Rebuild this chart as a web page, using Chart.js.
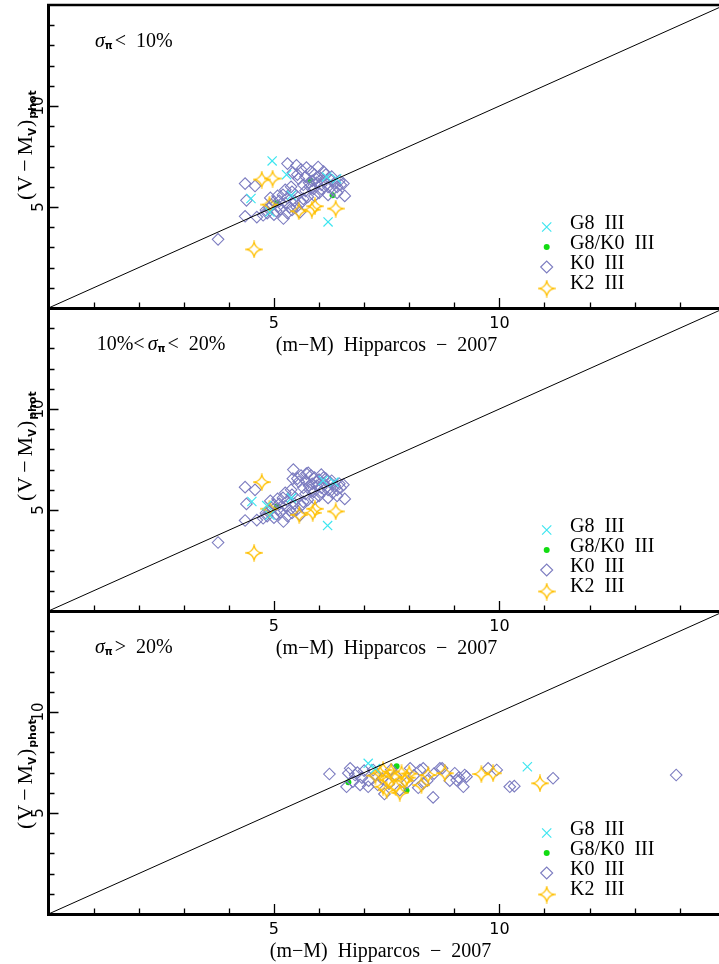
<!DOCTYPE html>
<html><head><meta charset="utf-8">
<script src="https://cdn.jsdelivr.net/npm/chart.js@4/dist/chart.umd.min.js"></script>
<style>
html,body{margin:0;padding:0;background:#fff;}
body{width:719px;height:964px;position:relative;overflow:hidden;}
canvas{position:absolute;left:0;}
</style></head><body>
<canvas id="c1"></canvas><canvas id="c2"></canvas><canvas id="c3"></canvas>
<script>
// ---------- axes / labels ----------
const XMIN = 0, XMAX = 14.87, YMIN = 0, YMAX = 15;
const xTickLabels = ['5', '10'];
const yTickLabels = ['5', '10'];
const xTitle = '(m\u2212M)  Hipparcos  \u2212  2007';
const seriesNames = ['G8  III', 'G8/K0  III', 'K0  III', 'K2  III'];
const lineX = [0, 15];
const lineY = [0, 15];

// ---------- panel 1 : sigma < 10% ----------
const g8_1_x = [4.96, 5.28, 4.49, 6.20, 6.17, 6.39, 5.39, 4.91];
const g8_1_y = [7.28, 6.60, 5.42, 4.26, 6.49, 6.40, 5.58, 4.75];
const gk_1_x = [5.06, 6.30, 5.80];
const gk_1_y = [5.20, 5.58, 6.32];
const k0_1_x = [3.76,4.36,4.58,4.39,4.36,4.62,4.76,4.85,4.90,4.95,4.82,5.00,5.05,5.10,5.12,5.00,4.92,5.20,5.15,5.21,
  5.30,5.35,5.25,5.30,5.40,5.45,5.50,5.38,5.30,5.50,5.42,5.60,5.55,5.65,5.70,5.60,5.75,5.80,5.85,5.90,
  5.82,5.98,6.00,5.95,6.05,6.10,6.00,6.15,6.20,6.25,6.30,6.35,6.40,6.45,6.54,6.57,6.40,6.20,6.10,5.90,
  5.70,5.78,5.88,5.65,5.50,5.40,5.58,6.28,6.48,6.05,5.93,6.18,5.72,5.52,5.25,5.08];
const k0_1_y = [3.40,6.16,6.04,5.33,4.54,4.50,4.59,4.70,4.95,5.10,4.85,4.62,4.80,5.05,5.30,5.25,5.45,5.60,4.90,4.43,
  4.70,5.00,5.20,5.45,5.75,5.30,5.55,6.00,7.15,7.06,6.70,6.85,6.40,6.10,5.80,5.20,5.50,6.00,6.30,6.60,
  6.75,6.98,6.50,6.20,5.90,6.30,5.70,6.60,6.00,6.35,5.85,6.20,6.00,6.30,6.16,5.55,5.70,5.60,6.75,5.55,
  6.50,6.20,5.90,5.40,5.00,4.85,4.75,6.50,6.10,6.10,6.40,6.15,6.95,6.60,5.85,5.55];
const k2_1_x = [4.73, 4.97, 4.56, 4.90, 5.55, 5.91, 5.84, 6.37];
const k2_1_y = [6.36, 6.41, 2.90, 5.12, 4.79, 5.04, 4.87, 4.92];

// ---------- panel 2 : 10% < sigma < 20% ----------
const g8_2_x = [4.51, 6.19, 6.09, 6.33, 5.39, 4.84, 4.91];
const g8_2_y = [5.42, 4.23, 6.46, 6.38, 5.60, 5.22, 4.74];
const gk_2_x = [5.06];
const gk_2_y = [5.17];
const k0_2_x = [3.76,4.36,4.58,4.39,4.36,4.62,4.76,4.85,4.90,4.95,4.82,5.00,5.05,5.10,5.12,5.00,4.92,5.20,5.15,5.21,
  5.30,5.35,5.25,5.30,5.40,5.45,5.50,5.38,5.43,5.76,5.42,5.60,5.55,5.65,5.70,5.60,5.75,5.80,5.85,5.90,
  5.82,6.05,6.00,5.95,6.05,6.10,6.00,6.15,6.20,6.25,6.30,6.35,6.40,6.45,6.54,6.57,6.40,6.20,6.10,5.90,
  5.70,5.78,5.88,5.65,5.50,5.40,5.58,6.28,6.48,6.05,5.93,6.18,5.72,5.52,5.25,5.08];
const k0_2_y = [3.39,6.13,6.00,5.30,4.48,4.50,4.59,4.70,4.95,5.10,4.85,4.62,4.80,5.05,5.30,5.25,5.45,5.60,4.90,4.43,
  4.70,5.00,5.20,5.45,5.75,5.30,5.55,6.00,7.00,6.84,6.55,6.70,6.40,6.10,5.80,5.20,5.50,6.00,6.30,6.60,
  6.70,6.75,6.50,6.20,5.90,6.30,5.70,6.55,6.00,6.35,5.85,6.20,6.00,6.30,6.25,5.55,5.70,5.60,6.60,5.55,
  6.45,6.20,5.90,5.40,5.00,4.85,4.75,6.45,6.10,6.10,6.40,6.15,6.80,6.55,5.85,5.55];
const k2_2_x = [4.73, 4.90, 5.56, 5.91, 5.86, 6.37, 4.56];
const k2_2_y = [6.38, 5.06, 4.76, 5.06, 4.86, 4.93, 2.88];

// ---------- panel 3 : sigma > 20% ----------
const g8_3_x = [7.09, 7.25, 10.62];
const g8_3_y = [7.46, 7.20, 7.29];
const gk_3_x = [6.65, 7.72, 7.94];
const gk_3_y = [6.52, 7.31, 6.12];
const k0_3_x = [6.23,6.65,6.61,6.91,7.45,8.53,8.73,8.31,9.01,9.20,9.27,9.75,9.94,10.33,11.19,13.92,
  6.69,6.80,7.09,7.20,8.24,8.31,8.68,8.02,7.79,
  6.85,6.95,7.00,7.10,7.25,7.40,7.55,7.70,7.95,8.10,8.40,8.55,9.10,9.23,8.90,7.60,6.75,7.30,8.20,9.05,10.23];
const k0_3_y = [6.93,6.97,6.30,6.39,5.94,5.77,7.21,7.21,6.97,6.30,6.80,7.21,7.13,6.33,6.72,6.88,
  7.21,6.88,6.30,7.13,7.13,6.47,7.21,7.21,6.13,
  7.00,6.75,7.10,6.60,6.90,6.70,6.45,6.85,6.50,6.85,6.60,6.95,6.75,6.88,6.60,7.15,6.55,6.40,6.25,6.63,6.30];
const k2_3_x = [7.35,7.53,7.83,7.90,7.50,7.79,7.65,7.42,7.60,7.70,8.27,8.42,8.79,9.60,9.86,10.90,7.25,8.00,7.95,7.42];
const k2_3_y = [6.97,6.63,6.97,6.60,6.13,6.00,6.80,7.13,7.05,6.30,6.38,6.88,6.97,6.93,6.97,6.47,6.85,6.95,6.75,6.30];

// ---------- styles ----------
const C = { g8: '#3ee6f0', gk: '#12dc12', k0: '#7c7cc0', k2: '#ffc000' };
const F_MAIN = '20px "Liberation Serif"';
const F_YT = '22px "Liberation Serif"';
const F_IT = 'italic 20px "Liberation Serif"';
const F_SUB = 'bold 10px "DejaVu Sans"';
const F_SUB2 = 'bold 11px "DejaVu Sans"';

function makeStar() {
  const c = document.createElement('canvas'); c.width = 18; c.height = 18;
  const g = c.getContext('2d'); const cx = 9, cy = 9, r = 7.5, k = 1.2;
  g.strokeStyle = C.k2; g.lineWidth = 1.3;
  g.beginPath(); g.moveTo(cx, cy - r);
  g.quadraticCurveTo(cx + k, cy - k, cx + r, cy);
  g.quadraticCurveTo(cx + k, cy + k, cx, cy + r);
  g.quadraticCurveTo(cx - k, cy + k, cx - r, cy);
  g.quadraticCurveTo(cx - k, cy - k, cx, cy - r);
  g.closePath(); g.stroke();
  return c;
}
const STAR = makeStar();

function pts(xs, ys) { return xs.map((x, i) => ({ x: x, y: ys[i] })); }

function rich(ctx, x, y, parts) {
  for (const p of parts) {
    ctx.font = p.f;
    x += (p.dx || 0);
    ctx.fillText(p.t, x, y + (p.dy || 0));
    x += ctx.measureText(p.t).width;
  }
}

function marker(ctx, kind, x, y) {
  ctx.save();
  if (kind === 0) {
    ctx.strokeStyle = C.g8; ctx.lineWidth = 1.2; const d = 4.6;
    ctx.beginPath(); ctx.moveTo(x - d, y - d); ctx.lineTo(x + d, y + d);
    ctx.moveTo(x - d, y + d); ctx.lineTo(x + d, y - d); ctx.stroke();
  } else if (kind === 1) {
    ctx.fillStyle = C.gk; ctx.beginPath(); ctx.arc(x, y, 3, 0, Math.PI * 2); ctx.fill();
  } else if (kind === 2) {
    ctx.strokeStyle = C.k0; ctx.lineWidth = 1.1; const r = 6;
    ctx.beginPath(); ctx.moveTo(x - r, y); ctx.lineTo(x, y - r); ctx.lineTo(x + r, y); ctx.lineTo(x, y + r); ctx.closePath(); ctx.stroke();
  } else {
    ctx.drawImage(STAR, x - 9, y - 9);
  }
  ctx.restore();
}

const decor = {
  id: 'decor',
  afterDraw(chart, args, o) {
    const ctx = chart.ctx, a = chart.chartArea, xs = chart.scales.x, ys = chart.scales.y;
    ctx.save();
    // inward ticks
    ctx.strokeStyle = '#000'; ctx.lineWidth = 1.3;
    ctx.beginPath();
    for (let v = 1; v <= 14; v++) {
      const p = Math.round(xs.getPixelForValue(v)) + 0.5;
      const L = (v % 5 === 0) ? 9 : 4.5;
      ctx.moveTo(p, a.bottom - 1); ctx.lineTo(p, a.bottom - 1 - L);
    }
    for (let v = 1; v <= 14; v++) {
      const p = Math.round(ys.getPixelForValue(v)) + 0.5;
      const L = (v % 5 === 0) ? 9 : 5;
      ctx.moveTo(a.left + 1, p); ctx.lineTo(a.left + 1 + L, p);
    }
    ctx.stroke();
    if (o.topBorder) {
      ctx.lineWidth = 2.5; ctx.beginPath();
      ctx.moveTo(a.left - 1.5, a.top); ctx.lineTo(a.right, a.top); ctx.stroke();
    }
    ctx.fillStyle = '#000';
    // y tick labels (rotated)
    ctx.font = '15px "DejaVu Sans"'; ctx.textAlign = 'center'; ctx.textBaseline = 'middle';
    yTickLabels.forEach(l => {
      const p = ys.getPixelForValue(Number(l));
      ctx.save(); ctx.translate(39, p); ctx.rotate(-Math.PI / 2); ctx.fillText(l, 0, 0); ctx.restore();
    });
    // y title
    ctx.textAlign = 'left'; ctx.textBaseline = 'alphabetic';
    ctx.save(); ctx.translate(31.5, a.top + o.yTitleOff); ctx.rotate(-Math.PI / 2);
    rich(ctx, 0, 0, [
      { t: '(', f: F_YT },
      { t: 'V', f: F_YT, dx: 1 },
      { t: '\u2212', f: F_YT, dx: 4 },
      { t: 'M', f: F_YT, dx: 4 },
      { t: 'V', f: F_SUB, dy: 4, dx: 0 },
      { t: ')', f: F_YT, dx: 1 },
      { t: 'phot', f: F_SUB2, dy: 4, dx: 1 }
    ]);
    ctx.restore();
    // panel annotation
    rich(ctx, o.annX, a.top + 42, o.ann);
    // x title
    ctx.font = F_MAIN; ctx.textAlign = 'center';
    ctx.fillText(xTitle, o.titleCx, a.bottom + 43);
    // legend
    ctx.textAlign = 'left';
    const my = [222, 242, 262, 283.5], ty = [223.5, 243.5, 263.5, 283.5];
    for (let i = 0; i < 4; i++) {
      marker(ctx, i, 546.7, a.top + my[i]);
      ctx.font = F_MAIN; ctx.fillStyle = '#000';
      ctx.fillText(seriesNames[i], 570, a.top + ty[i]);
    }
    ctx.restore();
  }
};

function makeChart(id, top, d, o) {
  const cv = document.getElementById(id);
  cv.width = 719; cv.height = 380; cv.style.top = (top - 10) + 'px';
  return new Chart(cv, {
    type: 'scatter',
    data: {
      datasets: [
        { type: 'line', data: pts(lineX, lineY), borderColor: '#000', borderWidth: 1, pointRadius: 0, showLine: true, fill: false, tension: 0, order: 0 },
        { label: seriesNames[0], data: pts(d[0], d[1]), pointStyle: 'crossRot', pointRadius: 6.5, pointBorderColor: C.g8, pointBackgroundColor: C.g8, pointBorderWidth: 1.2, order: 1 },
        { label: seriesNames[1], data: pts(d[2], d[3]), pointStyle: 'circle', pointRadius: 3, pointBorderColor: C.gk, pointBackgroundColor: C.gk, pointBorderWidth: 0, order: 4 },
        { label: seriesNames[3], data: pts(d[6], d[7]), pointStyle: STAR, pointRadius: 8, order: 2 },
        { label: seriesNames[2], data: pts(d[4], d[5]), pointStyle: 'rectRot', pointRadius: 5.8, pointBorderColor: C.k0, pointBackgroundColor: 'rgba(0,0,0,0)', pointBorderWidth: 1.1, order: 3 }
      ]
    },
    options: {
      responsive: false, animation: false, events: [], devicePixelRatio: 1,
      layout: { autoPadding: false, padding: { top: 10, left: 0, right: 0, bottom: 0 } },
      plugins: { legend: { display: false }, tooltip: { enabled: false }, decor: o },
      scales: {
        x: {
          type: 'linear', min: XMIN, max: XMAX, position: 'bottom',
          afterFit: s => { s.height = 67; s.paddingLeft = 0; s.paddingRight = 0; },
          grid: { drawOnChartArea: false, drawTicks: false },
          border: { display: true, width: 3, color: '#000' },
          ticks: { stepSize: 1, autoSkip: false, maxRotation: 0, minRotation: 0, padding: 6, color: '#000',
            font: { family: 'DejaVu Sans', size: 16 },
            callback: v => xTickLabels.includes(String(v)) ? String(v) : '' }
        },
        y: {
          type: 'linear', min: YMIN, max: YMAX, position: 'left',
          afterFit: s => { s.width = 48.5; s.paddingTop = 0; s.paddingBottom = 0; },
          grid: { drawOnChartArea: false, drawTicks: false },
          border: { display: true, width: 3, color: '#000' },
          ticks: { display: false, stepSize: 1 }
        }
      }
    },
    plugins: [decor]
  });
}

makeChart('c1', 5, [g8_1_x, g8_1_y, gk_1_x, gk_1_y, k0_1_x, k0_1_y, k2_1_x, k2_1_y], {
  topBorder: true, yTitleOff: 195, annX: 95, titleCx: 386.5,
  ann: [{ t: '\u03C3', f: F_IT }, { t: '\u03C0', f: F_SUB, dy: 1.5 }, { t: '<  10%', f: F_MAIN, dx: 2 }]
});
makeChart('c2', 308, [g8_2_x, g8_2_y, gk_2_x, gk_2_y, k0_2_x, k0_2_y, k2_2_x, k2_2_y], {
  topBorder: false, yTitleOff: 193, annX: 96.7, titleCx: 386.5,
  ann: [{ t: '10%<', f: F_MAIN }, { t: '\u03C3', f: F_IT, dx: 3 }, { t: '\u03C0', f: F_SUB, dy: 1.5 }, { t: '<  20%', f: F_MAIN, dx: 2 }]
});
makeChart('c3', 611, [g8_3_x, g8_3_y, gk_3_x, gk_3_y, k0_3_x, k0_3_y, k2_3_x, k2_3_y], {
  topBorder: false, yTitleOff: 218, annX: 95, titleCx: 380.5,
  ann: [{ t: '\u03C3', f: F_IT }, { t: '\u03C0', f: F_SUB, dy: 1.5 }, { t: '>  20%', f: F_MAIN, dx: 2 }]
});
</script>
</body></html>
